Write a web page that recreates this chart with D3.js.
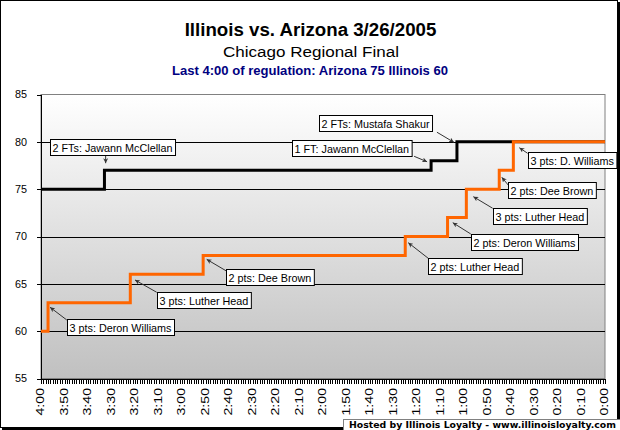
<html>
<head>
<script src="https://d3js.org/d3.v7.min.js"></script>
<style>
  body { margin: 0; background: #fff; }
  text { font-family: 'Liberation Sans', Arial, sans-serif; }
  .axis path, .axis line { stroke: #000; shape-rendering: crispEdges; }
</style>
</head>
<body>
<script>
// time remaining in seconds, score after each basket
const timeLabels = ['4:00','3:50','3:40','3:30','3:20','3:10','3:00','2:50','2:40','2:30','2:20','2:10',
  '2:00','1:50','1:40','1:30','1:20','1:10','1:00','0:50','0:40','0:30','0:20','0:10','0:00']
const yTicks = [55, 60, 65, 70, 75, 80, 85]
const arizonaTimes = [240, 213, 74, 63, 0]
const arizonaScores = [75, 77, 78, 80, 80]
const illinoisTimes = [240, 237, 202, 171, 85, 67, 59, 45, 39, 0]
const illinoisScores = [60, 63, 66, 68, 70, 72, 75, 77, 80, 80]
const noteLabels = ['2 FTs: Jawann McClellan', '2 FTs: Mustafa Shakur', '1 FT: Jawann McClellan',
  '3 pts: D. Williams', '2 pts: Dee Brown', '3 pts: Luther Head', '2 pts: Deron Williams',
  '2 pts: Luther Head', '2 pts: Dee Brown', '3 pts: Luther Head', '3 pts: Deron Williams']
const noteTeam = ['az','az','az','il','il','il','il','il','il','il','il']
const noteIndex = [1, 3, 2, 8, 7, 6, 5, 4, 3, 2, 1]

// box / arrow offsets from the scored point, px
const noteLayout = [
  {bx:-54.5, by:-31.2, tx:1.2, ty:-7, sx:1.2, sy:-15.5},
  {bx:-137.6, by:-26.8, tx:-3, ty:0.5, sx:-20, sy:-9.6},
  {bx:-139.4, by:-20.8, tx:-4, ty:1, sx:-17, sy:-4.5},
  {bx:14.3, by:10.5, tx:6, ty:5.9, sx:14.3, sy:11.5},
  {bx:9, by:11.5, tx:2.5, ty:7.1, sx:9, sy:14.8},
  {bx:26.3, by:19.1, tx:7, ty:7.5, sx:26.3, sy:19.1},
  {bx:23.2, by:16.4, tx:5.2, ty:5.1, sx:23.2, sy:16.4},
  {bx:23, by:21.8, tx:3, ty:6.2, sx:23, sy:21.8},
  {bx:22.9, by:13.9, tx:3.5, ty:3.9, sx:24.5, sy:16.3},
  {bx:26.4, by:17.3, tx:4.7, ty:5.6, sx:26.4, sy:17.9},
  {bx:18.7, by:16.5, tx:2, ty:4.5, sx:18.7, sy:17.2}
]

const W = 620, H = 430
const plot = {left: 41, right: 605, top: 94.5, bottom: 378.5}

const svg = d3.select('body').append('svg')
  .attr('width', W).attr('height', H)

const defs = svg.append('defs')
const grad = defs.append('linearGradient').attr('id', 'bg')
  .attr('x1', 0).attr('y1', 0).attr('x2', 0).attr('y2', 1)
grad.append('stop').attr('offset', 0).attr('stop-color', '#ffffff')
grad.append('stop').attr('offset', 1).attr('stop-color', '#c0c0c0')
defs.append('marker').attr('id', 'arrow')
  .attr('viewBox', '0 0 10 10').attr('refX', 10).attr('refY', 5)
  .attr('markerWidth', 5).attr('markerHeight', 5).attr('markerUnits', 'userSpaceOnUse')
  .attr('orient', 'auto')
  .append('path').attr('d', 'M0,0L10,5L0,10L3,5Z').attr('fill', '#333')

// chart area border with shadow
svg.append('rect').attr('x', 2).attr('y', 2).attr('width', W - 2).attr('height', H - 2).attr('fill', '#000')
svg.append('rect').attr('x', 0.5).attr('y', 0.5).attr('width', W - 3).attr('height', H - 3)
  .attr('fill', '#fff').attr('stroke', '#000')

// titles
svg.append('text').attr('x', 310.5).attr('y', 35.7).attr('text-anchor', 'middle')
  .style('font-size', '18.7px').style('font-weight', 'bold').text('Illinois vs. Arizona 3/26/2005')
svg.append('text').attr('x', 311).attr('y', 57.3).attr('text-anchor', 'middle')
  .attr('textLength', 176).attr('lengthAdjust', 'spacingAndGlyphs')
  .style('font-size', '15.5px').text('Chicago Regional Final')
svg.append('text').attr('x', 310).attr('y', 75).attr('text-anchor', 'middle')
  .attr('textLength', 276).attr('lengthAdjust', 'spacingAndGlyphs')
  .style('font-size', '13.3px').style('font-weight', 'bold').style('fill', '#000080')
  .text('Last 4:00 of regulation: Arizona 75 Illinois 60')

const x = d3.scaleLinear().domain([240, 0]).range([plot.left, plot.right])
const y = d3.scaleLinear().domain([55, 85]).range([plot.bottom, plot.top])

svg.append('rect').attr('x', plot.left).attr('y', plot.top)
  .attr('width', plot.right - plot.left).attr('height', plot.bottom - plot.top)
  .attr('fill', 'url(#bg)').attr('stroke', '#808080')

// gridlines
svg.append('g').selectAll('line')
  .data(yTicks.filter(d => d > 55 && d < 85))
  .enter().append('line')
  .attr('x1', plot.left).attr('x2', plot.right)
  .attr('y1', d => Math.round(y(d)) + 0.5).attr('y2', d => Math.round(y(d)) + 0.5)
  .attr('stroke', '#000')

// axes
const yAxis = svg.append('g').attr('class', 'axis')
  .attr('transform', 'translate(' + plot.left + ',0)')
  .call(d3.axisLeft(y).tickValues(yTicks).tickSize(4).tickPadding(10).tickSizeOuter(0))
yAxis.selectAll('text').style('font-size', '10.8px').attr('fill', '#000')

const toSec = s => +s.split(':')[0] * 60 + +s.split(':')[1]
const labelSecs = timeLabels.map(toSec)

const xMinor = svg.append('g').attr('class', 'axis')
  .attr('transform', 'translate(0,' + plot.bottom + ')')
  .call(d3.axisBottom(x).tickValues(d3.range(240, -1, -1)).tickSize(5).tickFormat('').tickSizeOuter(0))

const xAxis = svg.append('g').attr('class', 'axis')
  .attr('transform', 'translate(0,' + plot.bottom + ')')
  .call(d3.axisBottom(x).tickValues(labelSecs).tickSize(0).tickFormat((d, i) => timeLabels[i]))
xAxis.select('.domain').remove()
xAxis.selectAll('text')
  .attr('transform', 'rotate(-90)')
  .attr('x', -9.5).attr('y', -1).attr('dy', '0.35em')
  .attr('text-anchor', 'end')
  .attr('textLength', 27.5).attr('lengthAdjust', 'spacingAndGlyphs')
  .style('font-size', '10.8px').attr('fill', '#000')

// score lines
const teams = {
  az: arizonaTimes.map((t, i) => [t, arizonaScores[i]]),
  il: illinoisTimes.map((t, i) => [t, illinoisScores[i]])
}
const line = d3.line().x(d => x(d[0])).y(d => y(d[1])).curve(d3.curveStepAfter)

svg.append('path').datum(teams.az).attr('d', line)
  .attr('fill', 'none').attr('stroke', '#000').attr('stroke-width', 3)
svg.append('path').datum(teams.il).attr('d', line)
  .attr('fill', 'none').attr('stroke', '#ff6600').attr('stroke-width', 3)

// annotations
const notes = svg.append('g').attr('class', 'notes')
noteLabels.forEach((label, i) => {
  const p = teams[noteTeam[i]][noteIndex[i]]
  const ax = x(p[0]), ay = y(p[1])
  const L = noteLayout[i]
  notes.append('line')
    .attr('x1', ax + L.sx).attr('y1', ay + L.sy)
    .attr('x2', ax + L.tx).attr('y2', ay + L.ty)
    .attr('stroke', '#333').attr('stroke-width', 1)
    .attr('marker-end', 'url(#arrow)')
  const g = notes.append('g')
    .attr('transform', 'translate(' + Math.round(ax + L.bx) + ',' + Math.round(ay + L.by) + ')')
  const box = g.append('rect').attr('x', 0.5).attr('y', 0.5).attr('height', 16)
    .attr('fill', '#fff').attr('stroke', '#000')
  const txt = g.append('text').attr('x', 2.5).attr('y', 12.5)
    .style('font-size', '10.8px').text(label)
  box.attr('width', txt.node().getComputedTextLength() + 5)
})

// credit
const credit = svg.append('g').attr('transform', 'translate(343,419)')
credit.append('rect').attr('x', 0.5).attr('y', 0.5).attr('width', 277).attr('height', 12)
  .attr('fill', '#fff').attr('stroke', '#808080')
credit.append('text').attr('x', 6).attr('y', 9)
  .attr('textLength', 267).attr('lengthAdjust', 'spacingAndGlyphs')
  .style('font-family', "'DejaVu Sans', Verdana, sans-serif")
  .style('font-size', '8.5px').style('font-weight', 'bold')
  .text('Hosted by Illinois Loyalty - www.illinoisloyalty.com')
</script>
</body>
</html>
